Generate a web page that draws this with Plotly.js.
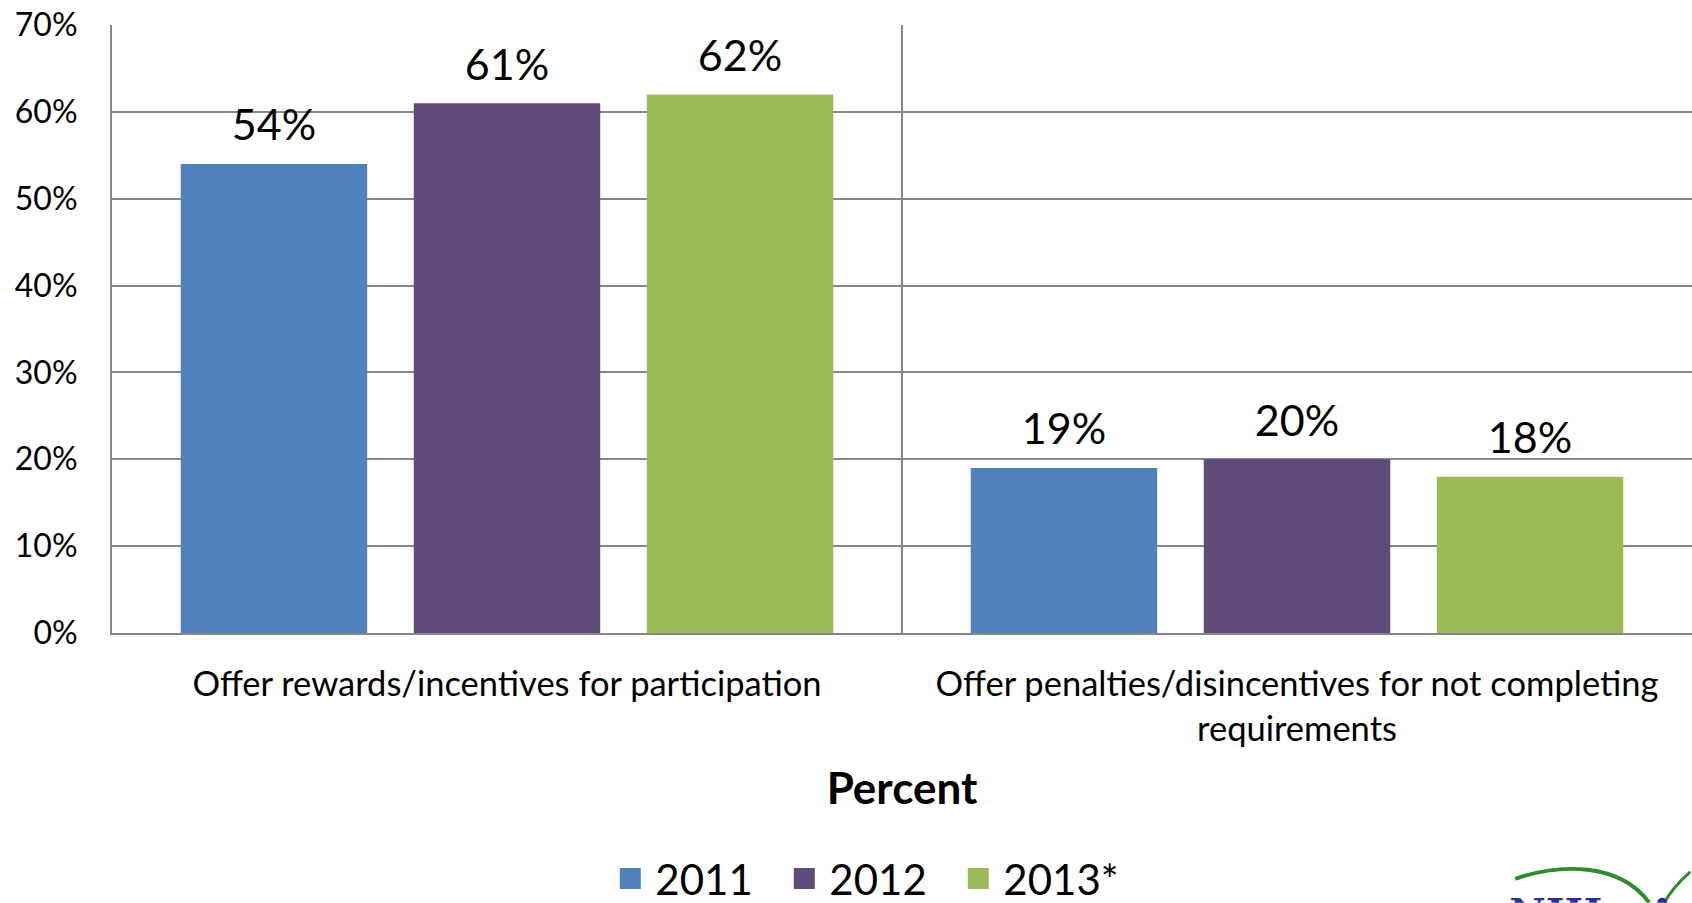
<!DOCTYPE html>
<html>
<head>
<meta charset="utf-8">
<script src="https://cdn.plot.ly/plotly-3.0.1.min.js"></script>
<style>html,body{margin:0;padding:0;background:#fff;}#chart{width:1692px;height:903px;}</style>
</head>
<body>
<div id="chart"></div>
<script>
const categories = ["Offer rewards/incentives for participation", "Offer penalties/disincentives for not completing<br>requirements"];
const seriesNames = ["2011", "2012", "2013*"];
const values2011 = [0.54, 0.19];
const values2012 = [0.61, 0.20];
const values2013 = [0.62, 0.18];
const colors = ["#4F81BD", "#604A7B", "#9BBB59"];
const yTickVals = [0, 0.1, 0.2, 0.3, 0.4, 0.5, 0.6, 0.7];
const yTickText = ["0%", "10%", "20%", "30%", "40%", "50%", "60%", "70%"];

const FONT = "Lato, 'Open Sans', sans-serif";
const allValues = [values2011, values2012, values2013];
const barTraces = allValues.map((vals, i) => ({
  type: "bar",
  name: seriesNames[i],
  legendgroup: seriesNames[i],
  showlegend: false,
  x: categories,
  y: vals,
  marker: {color: colors[i], line: {width: 0}},
  hoverinfo: "x+y+name"
}));
const labelTraces = allValues.map((vals, i) => ({
  type: "scatter",
  mode: "markers+text",
  name: seriesNames[i] + " labels",
  showlegend: false,
  x: categories,
  y: vals,
  marker: {size: 19, opacity: 0, color: colors[i]},
  text: vals.map(v => Math.round(v * 100) + "%"),
  textposition: "top center",
  cliponaxis: false,
  textfont: {family: FONT, size: 43, color: "#000"},
  hoverinfo: "skip"
}));
// legend entries (larger square swatches), kept on a hidden overlay axis pair
const legendTraces = seriesNames.map((name, i) => ({
  type: "scatter",
  mode: "markers",
  name: name,
  legendgroup: name,
  xaxis: "x2",
  yaxis: "y2",
  x: [null],
  y: [null],
  marker: {symbol: "square", size: 16, color: colors[i], line: {width: 5, color: colors[i]}},
  hoverinfo: "skip"
}));

const logoSvg = '<svg xmlns="http://www.w3.org/2000/svg" width="192" height="43" viewBox="0 0 192 43">' +
  '<path d="M16,19 C60,4 120,2 150,43" fill="none" stroke="#2E8B2E" stroke-width="4"/>' +
  '<path d="M165,43 C172,30 182,20 191,12" fill="none" stroke="#2E8B2E" stroke-width="3"/>' +
  '<text x="10" y="67" font-family="DejaVu Serif" font-weight="bold" font-size="40" fill="#2B2F9A">NIH</text>' +
  '<circle cx="163" cy="43" r="5" fill="#2B2F9A"/>' +
  '</svg>';

const layout = {
  width: 1692,
  height: 903,
  margin: {l: 112, r: 0, t: 25, b: 270},
  paper_bgcolor: "#ffffff",
  plot_bgcolor: "#ffffff",
  font: {family: FONT, color: "#000"},
  barmode: "group",
  bargap: 0.115,
  bargroupgap: 0.2,
  scattermode: "group",
  scattergap: 0.115,
  showlegend: true,
  legend: {
    orientation: "h",
    xref: "container", yref: "container",
    x: 0.512, xanchor: "center",
    y: 0.027, yanchor: "middle",
    font: {family: FONT, size: 42, color: "#000"},
    itemwidth: 40,
    entrywidth: 119,
    traceorder: "normal"
  },
  xaxis: {
    type: "category",
    tickson: "boundaries",
    showgrid: true,
    gridcolor: "#878787",
    gridwidth: 2,
    showline: true,
    linecolor: "#878787",
    linewidth: 2,
    ticks: "",
    automargin: false,
    tickfont: {family: FONT, size: 34.5, color: "#000"},
    ticklabelstandoff: 20,
    title: {text: "<b>Percent</b>", font: {family: FONT, size: 44, color: "#000"}, standoff: 26},
    fixedrange: true
  },
  yaxis: {
    range: [0, 0.7],
    tickvals: yTickVals,
    ticktext: yTickText,
    showgrid: true,
    gridcolor: "#878787",
    gridwidth: 2,
    showline: true,
    linecolor: "#878787",
    linewidth: 2,
    zeroline: false,
    ticks: "",
    automargin: false,
    tickfont: {family: FONT, size: 32, color: "#000"},
    ticklabelstandoff: 26,
    fixedrange: true
  },
  xaxis2: {overlaying: "x", visible: false, range: [0, 1], fixedrange: true},
  yaxis2: {overlaying: "y", visible: false, range: [0, 1], fixedrange: true},
  images: [{
    source: "data:image/svg+xml;charset=utf-8," + encodeURIComponent(logoSvg),
    xref: "paper", yref: "paper",
    x: 0.878, y: -0.373,
    sizex: 0.1215, sizey: 0.0707,
    xanchor: "left", yanchor: "top",
    sizing: "stretch",
    layer: "above"
  }]
};

Plotly.newPlot("chart", barTraces.concat(labelTraces, legendTraces), layout, {displayModeBar: false, staticPlot: true});
</script>
</body>
</html>
